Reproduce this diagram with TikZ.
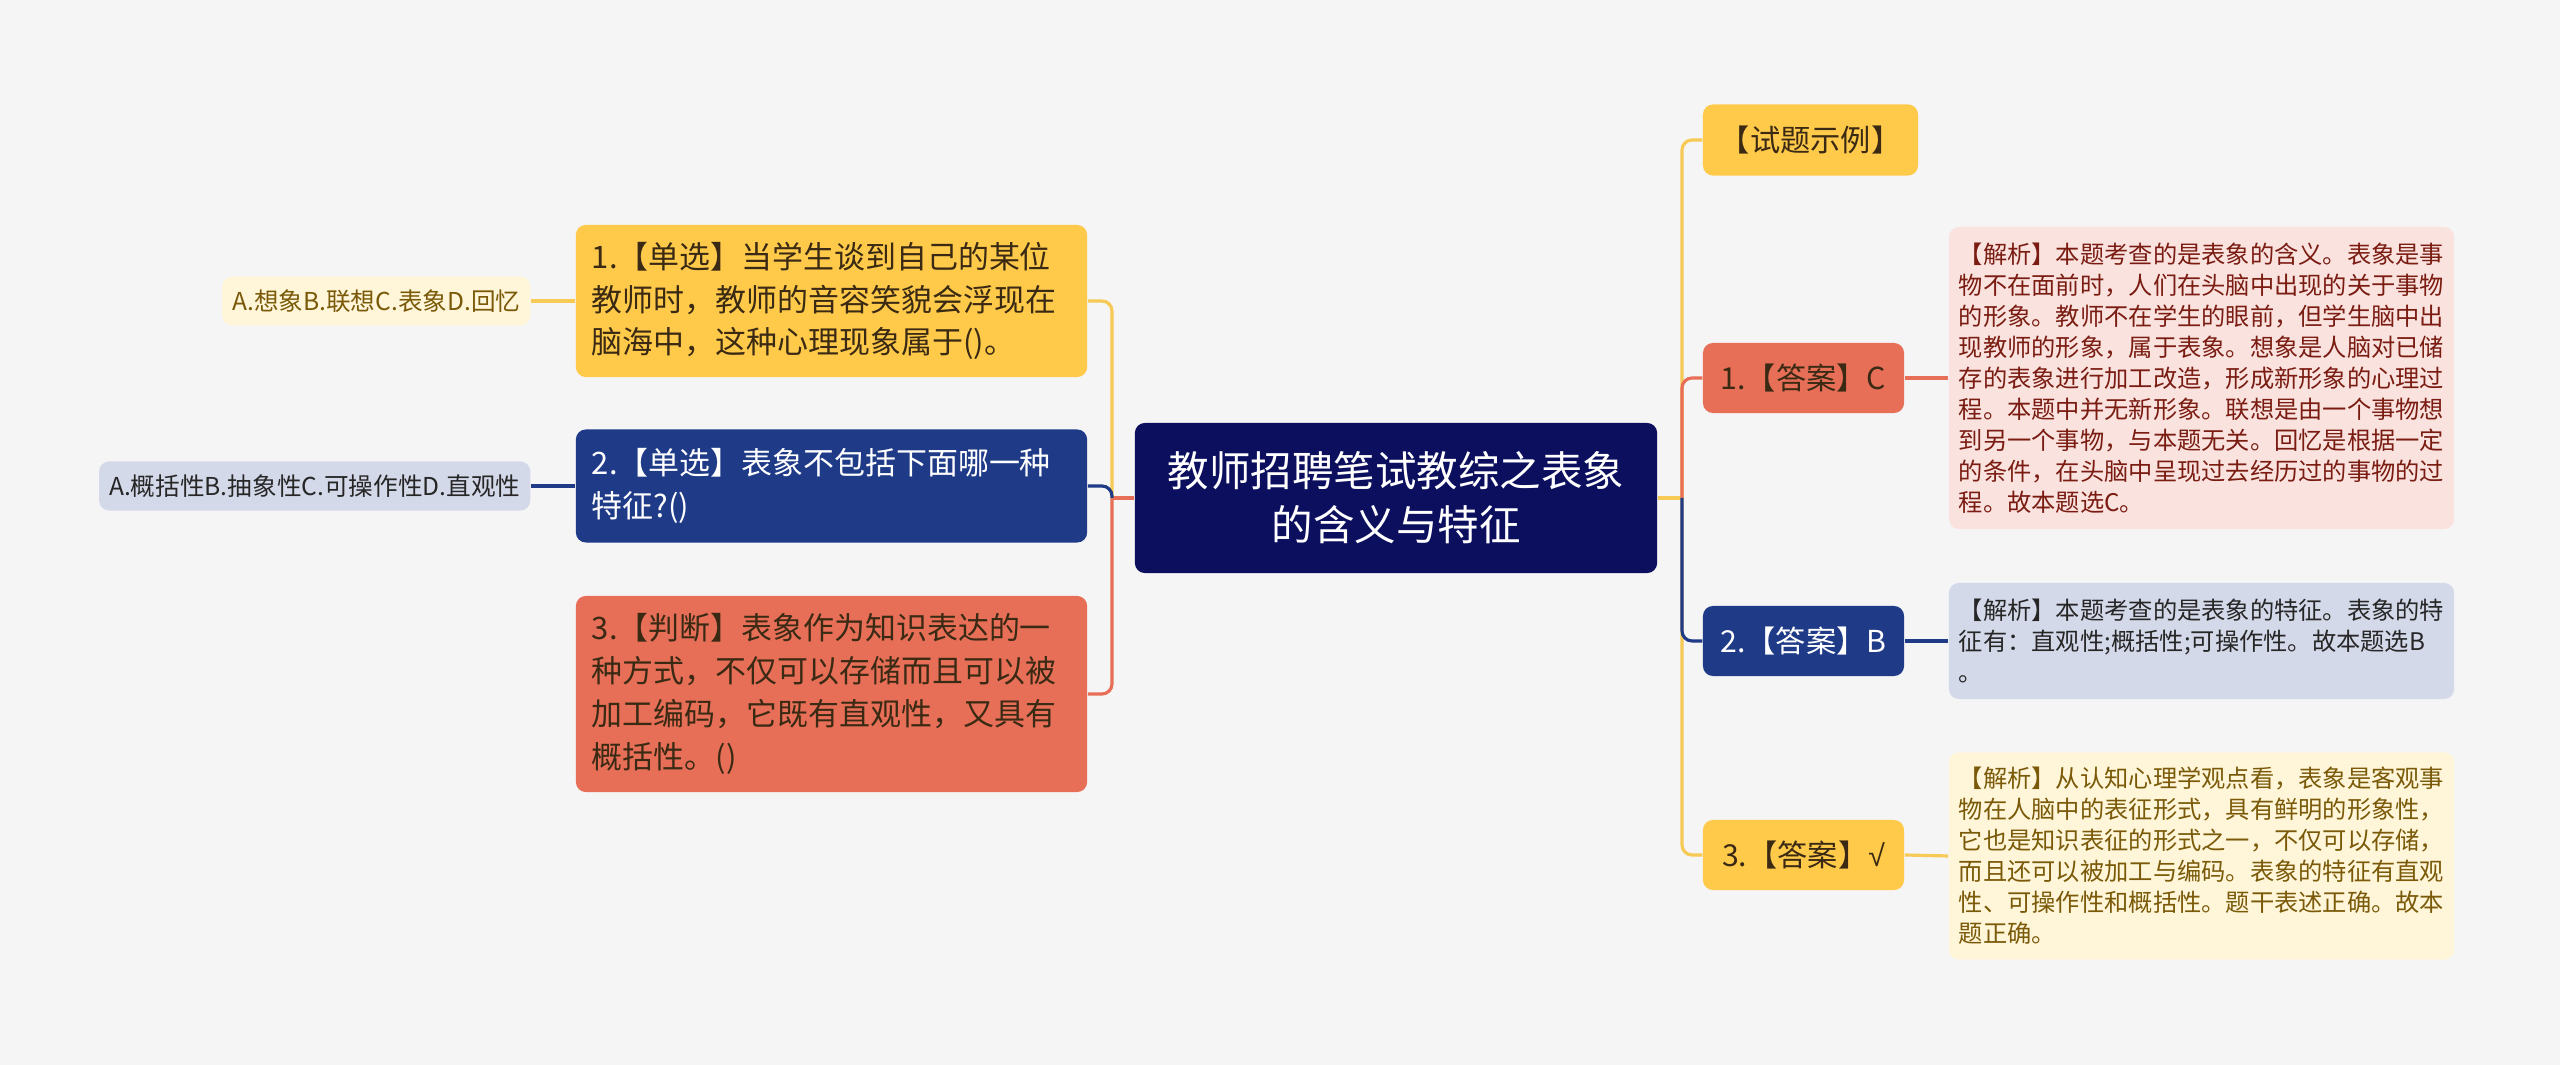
\documentclass[tikz,border=0pt]{standalone}
\usepackage{fontspec}
\setmainfont{Noto Sans CJK SC}
\newfontfamily\radfont{Liberation Sans}
\definecolor{bg}{HTML}{F5F5F5}
\definecolor{navy}{HTML}{0B0F5E}
\definecolor{ylw}{HTML}{FFC94A}
\definecolor{ylwln}{HTML}{F7C955}
\definecolor{sal}{HTML}{E76F58}
\definecolor{blu}{HTML}{1F3B88}
\definecolor{pinkl}{HTML}{FAE3DF}
\definecolor{blul}{HTML}{D4D9E9}
\definecolor{ylwl}{HTML}{FFF5D9}
\definecolor{brn}{HTML}{7A5A08}
\definecolor{dred}{HTML}{7A1C12}
\definecolor{dtxt}{HTML}{3A2A14}
\begin{document}
\begin{tikzpicture}[x=0.01cm,y=-0.01cm,
  box/.style={rounded corners=0.1cm, inner xsep=0.16cm, inner ysep=0pt, align=left},
  big/.style={box, text width=4.79cm, minimum width=5.11cm, font=\fontsize{8.8}{12.2}\selectfont},
  ans/.style={box, minimum width=2.01cm, minimum height=0.7cm, align=center, font=\fontsize{8.6}{10}\selectfont},
  note/.style={box, inner xsep=0.1cm, text width=4.85cm, minimum width=5.05cm, font=\fontsize{6.9}{8.8}\selectfont},
  opt/.style={box, inner xsep=0.1cm, minimum height=0.49cm, anchor=east, font=\fontsize{7}{8.8}\selectfont},
  lnk/.style={line width=0.9pt, rounded corners=0.1cm}]
\useasboundingbox[fill=bg] (0,0) rectangle (2560,1065);

% root
\node[box, fill=navy, text=white, align=center, minimum width=5.22cm, minimum height=1.5cm,
  font=\fontsize{11.8}{15.4}\selectfont] (ctr) at (1396,498) {教师招聘笔试教综之表象\\的含义与特征};

% left: questions
\node[big, fill=ylw, text=dtxt, minimum height=1.52cm] (q1) at (831.5,301)
  {1.【单选】当学生谈到自己的某位\\教师时，教师的音容笑貌会浮现在\\脑海中，这种心理现象属于()。};
\node[big, fill=blu, text=white, minimum height=1.13cm] (q2) at (831.5,486)
  {2.【单选】表象不包括下面哪一种\\特征?()};
\node[big, fill=sal, text=dtxt, minimum height=1.96cm] (q3) at (831.5,694)
  {3.【判断】表象作为知识表达的一\\种方式，不仅可以存储而且可以被\\加工编码，它既有直观性，又具有\\概括性。()};
\node[opt, fill=ylwl, text=brn] (o1) at (531,301) {A.想象B.联想C.表象D.回忆};
\node[opt, fill=blul, text=black!85] (o2) at (531,486) {A.概括性B.抽象性C.可操作性D.直观性};

% right: answers
\node[ans, fill=ylw, text=dtxt, minimum width=2.15cm, minimum height=0.71cm] (a0) at (1810.5,140) {【试题示例】};
\node[ans, fill=sal, text=dtxt] (a1) at (1803.5,378) {1.【答案】C};
\node[ans, fill=blu, text=white] (a2) at (1803.5,641) {2.【答案】B};
\node[ans, fill=ylw, text=dtxt] (a3) at (1803.5,855) {3.【答案】{\radfont √}};

\node[note, fill=pinkl, text=dred, minimum height=3.02cm] (n1) at (2201.5,378)
  {【解析】本题考查的是表象的含义。表象是事\\物不在面前时，人们在头脑中出现的关于事物\\的形象。教师不在学生的眼前，但学生脑中出\\现教师的形象，属于表象。想象是人脑对已储\\存的表象进行加工改造，形成新形象的心理过\\程。本题中并无新形象。联想是由一个事物想\\到另一个事物，与本题无关。回忆是根据一定\\的条件，在头脑中呈现过去经历过的事物的过\\程。故本题选C。};
\node[note, fill=blul, text=black!85, minimum height=1.16cm] (n2) at (2201.5,641)
  {【解析】本题考查的是表象的特征。表象的特\\征有：直观性;概括性;可操作性。故本题选B\\。};
\node[note, fill=ylwl, text=brn, minimum height=2.07cm] (n3) at (2201.5,856)
  {【解析】从认知心理学观点看，表象是客观事\\物在人脑中的表征形式，具有鲜明的形象性，\\它也是知识表征的形式之一，不仅可以存储，\\而且还可以被加工与编码。表象的特征有直观\\性、可操作性和概括性。题干表述正确。故本\\题正确。};

\coordinate (lj) at (1112,498);
\coordinate (rj) at (1682,498);

% links
\draw[lnk, sal] (ctr.west) -- (lj);
\draw[lnk, ylwln] (lj) |- (q1.east);
\draw[lnk, sal] (lj) |- (q3.east);
\draw[lnk, blu] (lj) |- (q2.east);
\draw[lnk, ylwln] (q1.west) -- (o1.east);
\draw[lnk, blu] (q2.west) -- (o2.east);

\draw[lnk, ylwln] (ctr.east) -- (rj);
\draw[lnk, ylwln] (rj) |- (a0.west);
\draw[lnk, ylwln] (rj) |- (a3.west);
\draw[lnk, sal] (rj) |- (a1.west);
\draw[lnk, blu] (rj) |- (a2.west);
\draw[lnk, sal] (a1.east) -- (n1.west);
\draw[lnk, blu] (a2.east) -- (n2.west);
\draw[lnk, ylwln] (a3.east) -- (n3.west);
\end{tikzpicture}
\end{document}
